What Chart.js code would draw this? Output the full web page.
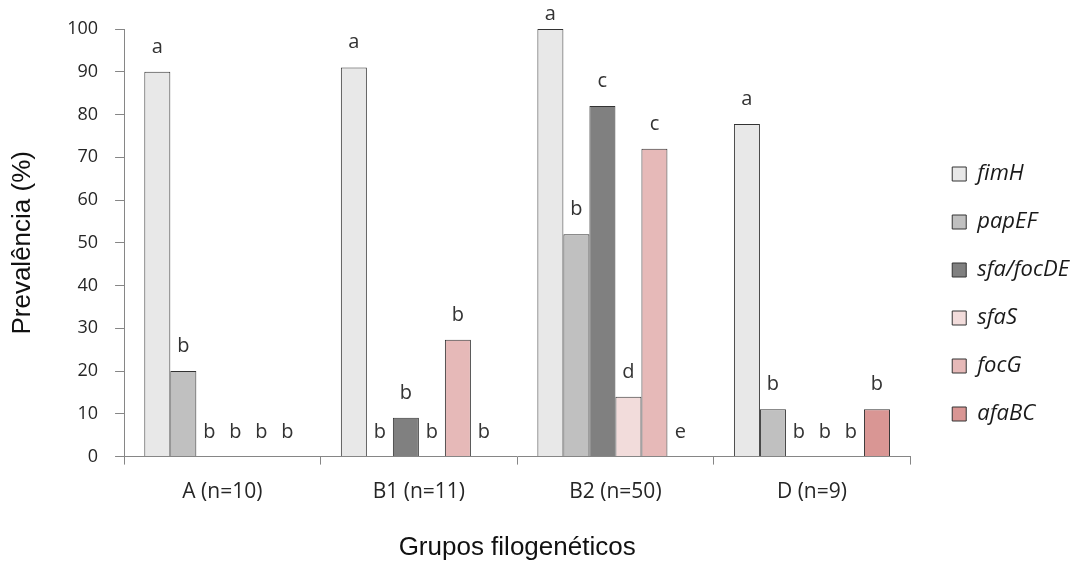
<!DOCTYPE html>
<html>
<head>
<meta charset="utf-8">
<script src="https://cdn.jsdelivr.net/npm/chart.js@4.4.0/dist/chart.umd.min.js"></script>
<style>
  html, body { margin: 0; padding: 0; background: #fff; }
  #wrap { width: 1079px; height: 567px; }
</style>
</head>
<body>
<div id="wrap"><canvas id="chart" width="1079" height="567"></canvas></div>
<script>
// groups on the x axis
const groups = ['A (n=10)', 'B1 (n=11)', 'B2 (n=50)', 'D (n=9)'];
const genes = ['fimH', 'papEF', 'sfa/focDE', 'sfaS', 'focG', 'afaBC'];

// prevalence (%) per gene, one value per group
const fimH     = [90, 91, 100, 77.8];
const papEF    = [20, 0, 52, 11.1];
const sfaFocDE = [0, 9.1, 82, 0];
const sfaS     = [0, 0, 14, 0];
const focG     = [0, 27.3, 72, 0];
const afaBC    = [0, 0, 0, 11.1];

// significance letters shown above each bar
const lettersFimH     = ['a', 'a', 'a', 'a'];
const lettersPapEF    = ['b', 'b', 'b', 'b'];
const lettersSfaFocDE = ['b', 'b', 'c', 'b'];
const lettersSfaS     = ['b', 'b', 'd', 'b'];
const lettersFocG     = ['b', 'b', 'c', 'b'];
const lettersAfaBC    = ['b', 'b', 'e', 'b'];

const colors = ['#e8e8e8', '#c0c0c0', '#808080', '#f2dcdb', '#e6b9b8', '#d99694'];
const axisColor = '#868686';
const textFont = "'Open Sans', sans-serif";
const titleFont = "'Liberation Sans', Arial, sans-serif";

const values = [fimH, papEF, sfaFocDE, sfaS, focG, afaBC];
const letters = [lettersFimH, lettersPapEF, lettersSfaFocDE, lettersSfaS, lettersFocG, lettersAfaBC];

const datasets = genes.map((g, i) => ({
  label: g,
  data: values[i],
  letters: letters[i],
  backgroundColor: colors[i],
  borderColor: '#333',
  borderWidth: 1,
  borderSkipped: 'start',
  barPercentage: 1,
  categoryPercentage: 0.794
}));

// draws the letter above every bar (also the empty ones)
const sigLetters = {
  id: 'sigLetters',
  afterDatasetsDraw(chart){
    const ctx = chart.ctx;
    ctx.save();
    ctx.font = '20px ' + textFont;
    ctx.fillStyle = '#333';
    ctx.textAlign = 'center';
    ctx.textBaseline = 'alphabetic';
    chart.data.datasets.forEach((ds, i) => {
      chart.getDatasetMeta(i).data.forEach((bar, j) => {
        // letters over full-height bars get squeezed under the top edge
        ctx.fillText(ds.letters[j], bar.x, Math.max(bar.y - 19, 20));
      });
    });
    ctx.restore();
  }
};

// nudge the legend block to where it sits in the figure
const legendNudge = {
  id: 'legendNudge',
  afterLayout(chart){
    const l = chart.legend;
    if(!l) return;
    const dy = -2, dx = 16;
    l.top += dy; l.bottom += dy;
    l.left += dx; l.right += dx;
  }
};

new Chart(document.getElementById('chart'), {
  type: 'bar',
  data: { labels: groups, datasets },
  plugins: [sigLetters, legendNudge],
  options: {
    responsive: false,
    animation: false,
    layout: { padding: { left: 7, top: 29, right: 16, bottom: 4 } },
    plugins: {
      tooltip: { enabled: false },
      legend: {
        position: 'right',
        align: 'center',
        labels: {
          boxWidth: 14,
          boxHeight: 14,
          padding: 26,
          color: '#1a1a1a',
          font: { family: textFont, size: 22, style: 'italic' }
        }
      }
    },
    scales: {
      x: {
        grid: { display: true, offset: true, drawOnChartArea: false, tickLength: 8, color: axisColor },
        border: { display: true, color: axisColor, width: 1 },
        ticks: { color: '#262626', padding: 15, font: { family: textFont, size: 21 } },
        title: {
          display: true, text: 'Grupos filogenéticos', color: '#111',
          font: { family: titleFont, size: 26 }, padding: { top: 12, bottom: 0 }
        }
      },
      y: {
        min: 0, max: 100,
        grid: { display: true, drawOnChartArea: false, tickLength: 9, color: axisColor },
        border: { display: true, color: axisColor, width: 1 },
        ticks: { stepSize: 10, color: '#262626', padding: 17, font: { family: textFont, size: 18 } },
        title: {
          display: true, text: 'Prevalência (%)', color: '#111',
          font: { family: titleFont, size: 26 }, padding: { top: 0, bottom: 12 }
        }
      }
    }
  }
});
</script>
</body>
</html>
